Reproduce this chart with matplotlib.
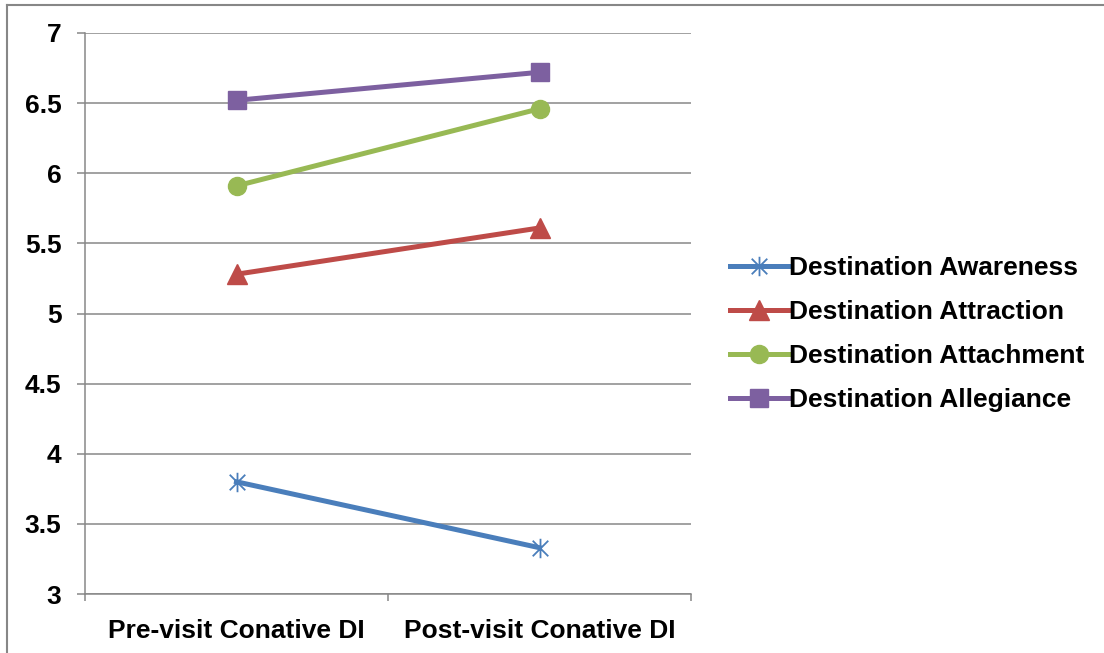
import matplotlib
matplotlib.use("Agg")
import matplotlib.pyplot as plt
from matplotlib.path import Path
from matplotlib.lines import Line2D

plt.rcParams['font.family'] = ['Liberation Sans', 'DejaVu Sans']
plt.rcParams['font.weight'] = 'bold'

categories = ["Pre-visit Conative DI", "Post-visit Conative DI"]
series_names = ["Destination Awareness", "Destination Attraction",
                "Destination Attachment", "Destination Allegiance"]
awareness = [3.80, 3.33]
attraction = [5.28, 5.61]
attachment = [5.91, 6.46]
allegiance = [6.52, 6.72]
y_ticks = [3, 3.5, 4, 4.5, 5, 5.5, 6, 6.5, 7]
y_tick_labels = ["3", "3.5", "4", "4.5", "5", "5.5", "6", "6.5", "7"]

colors = ["#4A7EBB", "#BE4B48", "#98B954", "#7D60A0"]

# Asterisk marker: vertical stroke plus two diagonals
star_path = Path(
    [(0, -1), (0, 1), (-0.8, -0.8), (0.8, 0.8), (-0.8, 0.8), (0.8, -0.8)],
    [Path.MOVETO, Path.LINETO, Path.MOVETO, Path.LINETO, Path.MOVETO, Path.LINETO],
)

fig = plt.figure(figsize=(11.04, 6.53), dpi=100)
ax = fig.add_axes([85 / 1104, 1 - 594 / 653, 606 / 1104, 561 / 653])

x = list(range(len(categories)))
values = [awareness, attraction, attachment, allegiance]
markers = [star_path, "^", "o", "s"]
msizes = [14, 14, 13, 12.5]

handles = []
for vals, name, c, m, ms in zip(values, series_names, colors, markers, msizes):
    if m is star_path:
        ln, = ax.plot(x, vals, color=c, lw=3.6, marker=m, ms=ms,
                      markeredgecolor=c, markeredgewidth=1.3,
                      markerfacecolor='none', label=name, zorder=3,
                      clip_on=False)
    else:
        ln, = ax.plot(x, vals, color=c, lw=3.6, marker=m, ms=ms,
                      markeredgecolor=c, markerfacecolor=c,
                      label=name, zorder=3, clip_on=False)
    handles.append(ln)

ax.set_xlim(-0.5, 1.5)
ax.set_ylim(3, 7)
ax.set_yticks(y_ticks)
ax.set_yticklabels(y_tick_labels)
ax.set_xticks(x)
ax.set_xticklabels(categories)
ax.tick_params(axis='x', length=0, pad=18, labelsize=19)
ax.tick_params(axis='y', length=6, width=1.1, color='#878787', pad=11,
               labelsize=19)
# category boundary ticks on the x axis
ax.set_xticks([-0.5, 0.5, 1.5], minor=True)
ax.tick_params(axis='x', which='minor', length=5, width=1.1,
               color='#878787', direction='out')

ax.grid(axis='y', color='#878787', lw=1.1, zorder=0)
ax.set_axisbelow(True)
for s in ['top', 'right']:
    ax.spines[s].set_visible(False)
for s in ['left', 'bottom']:
    ax.spines[s].set_color('#878787')
    ax.spines[s].set_linewidth(1.1)

fig.legend(handles=handles, loc='center left',
           bbox_to_anchor=(730 / 1104, 1 - 334 / 653),
           frameon=False, fontsize=19, handlelength=2.2, handletextpad=0.05,
           labelspacing=0.76, borderpad=0, borderaxespad=0)

# outer frame edges
fig.add_artist(Line2D([7 / 1104, 1], [1 - 5 / 653, 1 - 5 / 653],
                      transform=fig.transFigure, color='#878787', lw=1.5))
fig.add_artist(Line2D([7 / 1104, 7 / 1104], [0, 1 - 5 / 653],
                      transform=fig.transFigure, color='#878787', lw=1.5))

fig.savefig("out.png", dpi=100)
